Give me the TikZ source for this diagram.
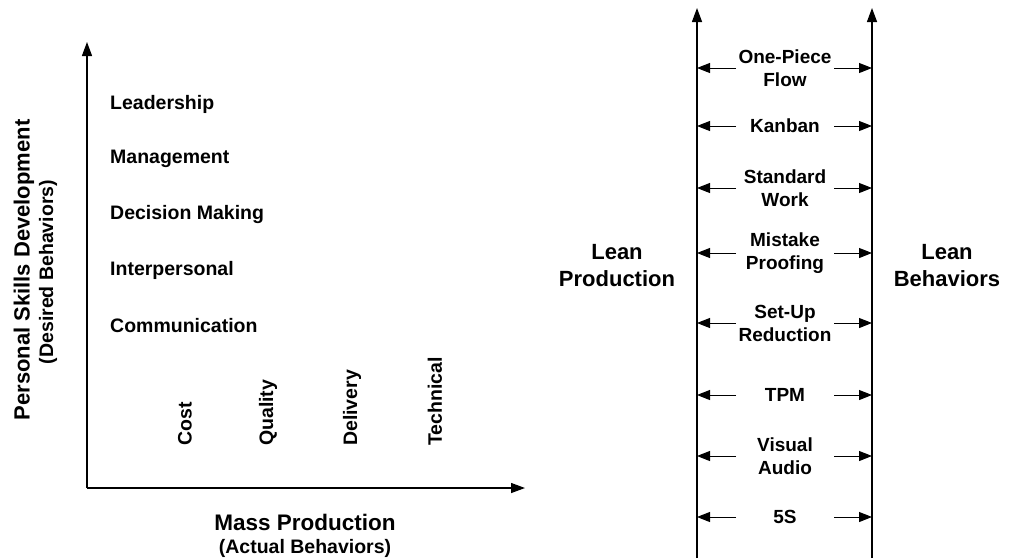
\documentclass[tikz,border=0pt]{standalone}
\usepackage{fontspec}
\setmainfont{Liberation Sans}
\usetikzlibrary{arrows.meta}
\tikzset{
  ax/.style={line width=1.3pt, -{Triangle[length=14pt,width=10pt]}},
  dbl/.style={line width=1pt, -{Triangle[length=13pt,width=10pt]}},
  skill/.style={font=\bfseries\fontsize{19.5}{22}\selectfont, anchor=west, inner sep=0pt},
  vlab/.style={font=\bfseries\fontsize{19.5}{22}\selectfont, rotate=90, anchor=west, inner sep=0pt},
  item/.style={font=\bfseries\fontsize{19}{23}\selectfont, align=center, inner sep=0pt},
  big/.style={font=\bfseries\fontsize{22}{27}\selectfont, align=center, inner sep=0pt},
}
\begin{document}
\begin{tikzpicture}[x=1pt,y=-1pt]
\useasboundingbox (0,0) rectangle (1010,558);
% left chart
\coordinate (O) at (87,488);
\coordinate (Ytop) at (87,42);
\coordinate (Xend) at (525,488);
\draw[ax] (O) -- (Ytop);
\draw[ax] (O) -- (Xend);
\node[skill] (l1) at (110,104) {Leadership};
\node[skill] (l2) at (110,159) {Management};
\node[skill] (l3) at (110,214) {Decision Making};
\node[skill] (l4) at (110,270) {Interpersonal};
\node[skill] (l5) at (110,326) {Communication};
\node[vlab] (c1) at (185,446) {Cost};
\node[vlab] (c2) at (268,446) {Quality};
\node[vlab] (c3) at (352,446) {Delivery};
\node[vlab] (c4) at (435,446) {Technical};
\node[font=\bfseries\fontsize{22.5}{26}\selectfont, inner sep=0pt] (mp) at (305,522) {Mass Production};
\node[font=\bfseries\fontsize{19.5}{22}\selectfont, inner sep=0pt] (ab) at (305,548) {(Actual Behaviors)};
\node[font=\bfseries\fontsize{22}{26}\selectfont, rotate=90, inner sep=0pt] (ps) at (24,270) {Personal Skills Development};
\node[font=\bfseries\fontsize{19.5}{22}\selectfont, rotate=90, inner sep=0pt] (db) at (48,272) {(Desired Behaviors)};
% right chart
\coordinate (LB) at (697,558);
\coordinate (LT) at (697,8);
\coordinate (RB) at (872,558);
\coordinate (RT) at (872,8);
\draw[ax] (LB) -- (LT);
\draw[ax] (RB) -- (RT);
\foreach \n/\y/\t in {a/68/{One-Piece\\Flow}, b/126/{Kanban}, c/188/{Standard\\Work}, d/253/{Mistake\\Proofing}, e/323/{Set-Up\\Reduction}, f/395/{TPM}, g/456/{Visual\\Audio}, h/517/{5S}}{
  \node[item] (\n) at (785,\y) {\t};
  \coordinate (\n L) at (697,\y);
  \coordinate (\n R) at (872,\y);
  \coordinate (\n l) at (736,\y);
  \coordinate (\n r) at (834,\y);
  \draw[dbl] (\n l) -- (\n L);
  \draw[dbl] (\n r) -- (\n R);
}
\node[big] (lp) at (617,266) {Lean\\Production};
\node[big] (lbh) at (947,266) {Lean\\Behaviors};
\end{tikzpicture}
\end{document}
